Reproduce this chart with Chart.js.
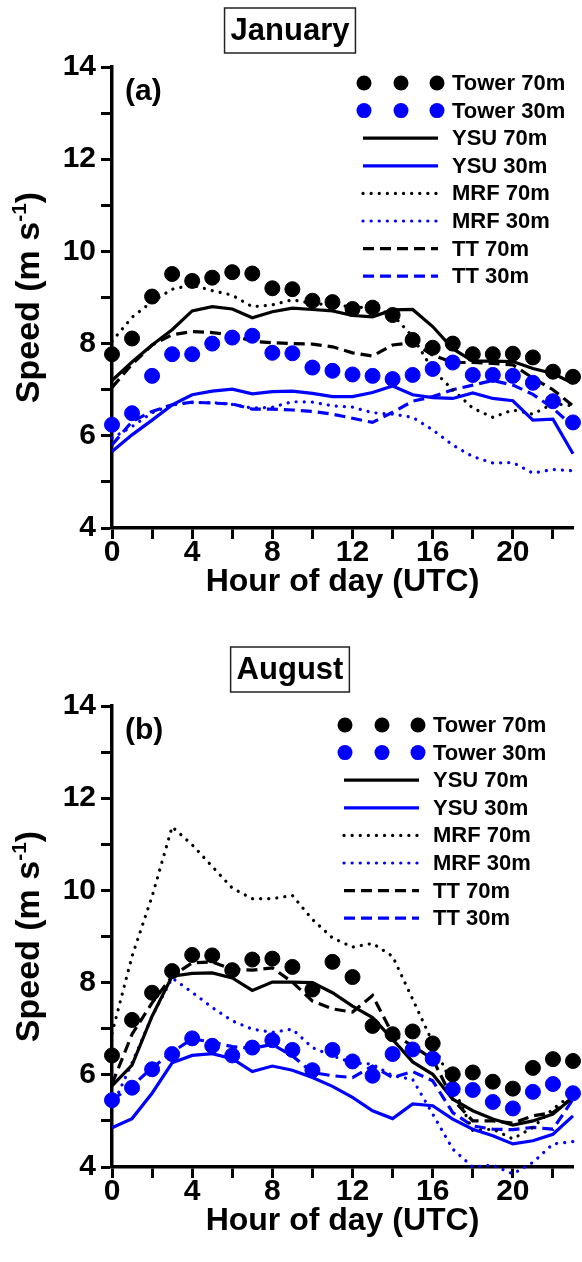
<!DOCTYPE html>
<html>
<head>
<meta charset="utf-8">
<script src="https://cdn.jsdelivr.net/npm/chart.js@4.4.1/dist/chart.umd.min.js"></script>
<style>
  body { margin: 0; background: #fff; }
  canvas { display: block; }
</style>
</head>
<body>
<canvas id="janChart" width="582" height="631"></canvas>
<canvas id="augChart" width="582" height="631"></canvas>
<script>
const hours = [0,1,2,3,4,5,6,7,8,9,10,11,12,13,14,15,16,17,18,19,20,21,22,23];

// January (a)
const janTower70 = [7.77,8.11,9.02,9.51,9.36,9.43,9.55,9.52,9.2,9.18,8.93,8.9,8.75,8.78,8.62,8.08,7.91,8.0,7.77,7.77,7.78,7.7,7.39,7.28];
const janTower30 = [6.24,6.49,7.3,7.77,7.77,8.0,8.13,8.17,7.8,7.79,7.48,7.41,7.33,7.3,7.23,7.32,7.45,7.59,7.32,7.32,7.3,7.15,6.75,6.29];
const janYSU70 = [7.2,7.6,7.97,8.3,8.71,8.8,8.75,8.56,8.69,8.77,8.74,8.71,8.61,8.58,8.73,8.74,8.37,7.89,7.62,7.62,7.61,7.46,7.35,7.14];
const janYSU30 = [5.66,6.02,6.34,6.67,6.89,6.97,7.01,6.91,6.96,6.97,6.92,6.85,6.85,6.94,7.08,6.89,6.83,6.81,6.93,6.81,6.76,6.34,6.36,5.61];
const janMRF70 = [8.05,8.57,8.91,9.18,9.27,9.15,9.05,8.8,8.84,8.95,8.87,8.84,8.8,8.77,8.63,8.15,7.43,7.0,6.6,6.4,6.56,6.47,6.7,6.65];
const janMRF30 = [5.95,6.2,6.5,6.68,6.72,6.72,6.68,6.6,6.62,6.74,6.73,6.65,6.62,6.5,6.47,6.4,6.13,5.8,5.55,5.41,5.42,5.19,5.27,5.24];
const janTT70 = [7.05,7.55,7.97,8.19,8.26,8.24,8.19,8.05,8.02,8.0,7.99,7.93,7.8,7.73,7.97,8.02,7.75,7.59,7.59,7.57,7.54,7.25,7.0,6.65];
const janTT30 = [5.8,6.31,6.53,6.67,6.73,6.71,6.69,6.58,6.58,6.56,6.53,6.47,6.38,6.29,6.51,6.75,6.85,7.0,7.1,7.2,7.1,6.9,6.6,6.2];

// August (b)
const augTower70 = [6.42,7.19,7.78,8.25,8.6,8.59,8.27,8.5,8.52,8.34,7.85,8.45,8.12,7.06,6.88,6.94,6.68,6.01,6.05,5.85,5.7,6.15,6.34,6.3];
const augTower30 = [5.45,5.72,6.12,6.45,6.79,6.63,6.42,6.59,6.75,6.54,6.1,6.54,6.29,5.98,6.45,6.55,6.35,5.69,5.67,5.41,5.27,5.63,5.8,5.6];
const augYSU70 = [5.76,6.21,7.27,8.14,8.2,8.21,8.1,7.83,8.01,8.01,8.0,7.78,7.49,7.24,6.77,6.28,6.01,5.47,5.22,5.04,4.91,5.0,5.15,5.51];
const augYSU30 = [4.85,5.05,5.6,6.26,6.42,6.46,6.35,6.07,6.19,6.1,5.94,5.75,5.51,5.22,5.05,5.37,5.33,5.04,4.82,4.68,4.5,4.57,4.71,5.11];
const augMRF70 = [6.9,8.57,9.87,11.38,10.99,10.52,10.05,9.82,9.82,9.89,9.37,8.97,8.77,8.85,8.57,7.64,6.7,5.76,4.79,4.82,4.61,4.86,5.26,5.58];
const augMRF30 = [5.3,6.26,7.27,8.1,7.79,7.46,7.17,6.99,6.92,6.99,6.59,6.41,6.26,6.23,5.98,5.9,5.15,4.39,4.0,4.04,3.85,4.1,4.5,4.55];
const augTT70 = [5.8,6.88,7.56,8.14,8.43,8.45,8.29,8.27,8.32,8.01,7.6,7.43,7.36,7.72,6.88,6.63,6.34,5.47,5.0,5.0,4.95,5.11,5.18,5.51];
const augTT30 = [5.45,5.76,6.15,6.49,6.78,6.71,6.61,6.57,6.66,6.41,6.05,5.98,5.94,6.19,5.94,6.07,5.87,5.18,4.89,4.82,4.81,4.86,4.82,5.47];

const FONT = '"Liberation Sans", Arial, sans-serif';
Chart.defaults.font.family = FONT;
Chart.defaults.color = '#000';

const BLUE = '#0000ff';
const DOT = [0.1, 8];
const DASH = [11, 6];

function makeSets(t70, t30, y70, y30, m70, m30, tt70, tt30) {
    const line = (label, data, color, dash) => ({
        label: label, data: data, borderColor: color, borderWidth: 3.2,
        borderDash: dash, borderCapStyle: dash === DOT ? 'round' : 'butt',
        pointRadius: 0, fill: false, clip: false
    });
    return [
        { label: 'Tower 70m', data: t70, showLine: false, pointRadius: 7.5, backgroundColor: '#000', borderColor: '#000', clip: false },
        { label: 'Tower 30m', data: t30, showLine: false, pointRadius: 7.5, backgroundColor: BLUE, borderColor: BLUE, clip: false },
        line('YSU 70m', y70, '#000', []),
        line('YSU 30m', y30, BLUE, []),
        line('MRF 70m', m70, '#000', DOT),
        line('MRF 30m', m30, BLUE, DOT),
        line('TT 70m', tt70, '#000', DASH),
        line('TT 30m', tt30, BLUE, DASH)
    ];
}

// legend with three dots for the tower series, drawn inside the plot
const insideLegend = {
    id: 'insideLegend',
    afterDraw(chart, args, opts) {
        const ctx = chart.ctx;
        ctx.save();
        ctx.font = 'bold 22px ' + FONT;
        ctx.textBaseline = 'middle';
        chart.data.datasets.forEach((ds, i) => {
            const x = opts.x, y = opts.y + i * 27.6;
            if (ds.showLine === false) {
                ctx.fillStyle = ds.backgroundColor;
                [1, 38, 74].forEach(dx => {
                    ctx.beginPath();
                    ctx.arc(x + dx, y, 7.5, 0, Math.PI * 2);
                    ctx.fill();
                });
            } else {
                ctx.strokeStyle = ds.borderColor;
                ctx.lineWidth = ds.borderWidth;
                ctx.setLineDash(ds.borderDash);
                ctx.lineCap = ds.borderCapStyle;
                ctx.beginPath();
                ctx.moveTo(x, y);
                ctx.lineTo(x + 75, y);
                ctx.stroke();
                ctx.setLineDash([]);
            }
            ctx.fillStyle = '#000';
            ctx.fillText(ds.label, x + 89, y + 1);
        });
        ctx.restore();
    }
};

// boxed month title, panel tag and y title with superscript
const panelText = {
    id: 'panelText',
    afterDraw(chart, args, opts) {
        const ctx = chart.ctx;
        const area = chart.chartArea;
        ctx.save();
        ctx.fillStyle = '#000';
        ctx.font = 'bold 31px ' + FONT;
        ctx.textAlign = 'center';
        ctx.textBaseline = 'middle';
        const w = ctx.measureText(opts.title).width;
        ctx.fillText(opts.title, 290, area.top - 36);
        ctx.strokeStyle = '#222';
        ctx.lineWidth = 1.5;
        ctx.strokeRect(290 - w / 2 - 6, area.top - 59, w + 12, 45);

        ctx.textAlign = 'left';
        ctx.font = 'bold 30px ' + FONT;
        ctx.fillText(opts.tag, area.left + 13, area.top + 25);

        // rotated y title
        ctx.translate(27, (area.top + area.bottom) / 2);
        ctx.rotate(-Math.PI / 2);
        const big = 'bold 34px ' + FONT, small = 'bold 21px ' + FONT;
        ctx.font = big;
        const w1 = ctx.measureText('Speed (m s').width;
        const w3 = ctx.measureText(')').width;
        ctx.font = small;
        const w2 = ctx.measureText('-1').width;
        let x0 = -(w1 + w2 + w3) / 2;
        ctx.textBaseline = 'alphabetic';
        ctx.font = big;
        ctx.fillText('Speed (m s', x0, 12);
        ctx.font = small;
        ctx.fillText('-1', x0 + w1, -1);
        ctx.font = big;
        ctx.fillText(')', x0 + w1 + w2, 12);
        ctx.restore();
    }
};

function buildChart(id, sets, title, tag, topPad, legendX, legendY) {
    return new Chart(document.getElementById(id).getContext('2d'), {
        type: 'line',
        data: { labels: hours, datasets: sets },
        plugins: [insideLegend, panelText],
        options: {
            responsive: false,
            animation: false,
            layout: { padding: { left: 0, right: 9, top: topPad, bottom: 97 - topPad } },
            plugins: {
                legend: { display: false },
                tooltip: { enabled: false },
                insideLegend: { x: legendX, y: legendY },
                panelText: { title: title, tag: tag }
            },
            scales: {
                x: {
                    type: 'linear',
                    min: 0,
                    max: 23,
                    afterFit: s => { s.height = 73; },
                    border: { color: '#000', width: 3.5 },
                    grid: { drawOnChartArea: false, tickLength: 11, tickWidth: 3, tickColor: '#000' },
                    ticks: {
                        stepSize: 2, includeBounds: false, autoSkip: false, maxRotation: 0, padding: -4,
                        font: { size: 30, weight: 'bold' },
                        callback: v => (v % 4 === 0 ? v : '')
                    },
                    title: { display: true, text: 'Hour of day (UTC)', font: { size: 32, weight: 'bold' }, padding: 0 }
                },
                y: {
                    min: 4,
                    max: 14,
                    afterFit: s => { s.width = 112; },
                    border: { color: '#000', width: 3.5 },
                    grid: { drawOnChartArea: false, tickLength: 11, tickWidth: 3, tickColor: '#000' },
                    ticks: {
                        stepSize: 1, autoSkip: false, padding: 5,
                        font: { size: 30, weight: 'bold' },
                        callback: v => (v % 2 === 0 ? v : '')
                    }
                }
            }
        }
    });
}

buildChart('janChart',
    makeSets(janTower70, janTower30, janYSU70, janYSU30, janMRF70, janMRF30, janTT70, janTT30),
    'January', '(a)', 67, 363, 83);
buildChart('augChart',
    makeSets(augTower70, augTower30, augYSU70, augYSU30, augMRF70, augMRF30, augTT70, augTT30),
    'August', '(b)', 75, 344, 94);
</script>
</body>
</html>
